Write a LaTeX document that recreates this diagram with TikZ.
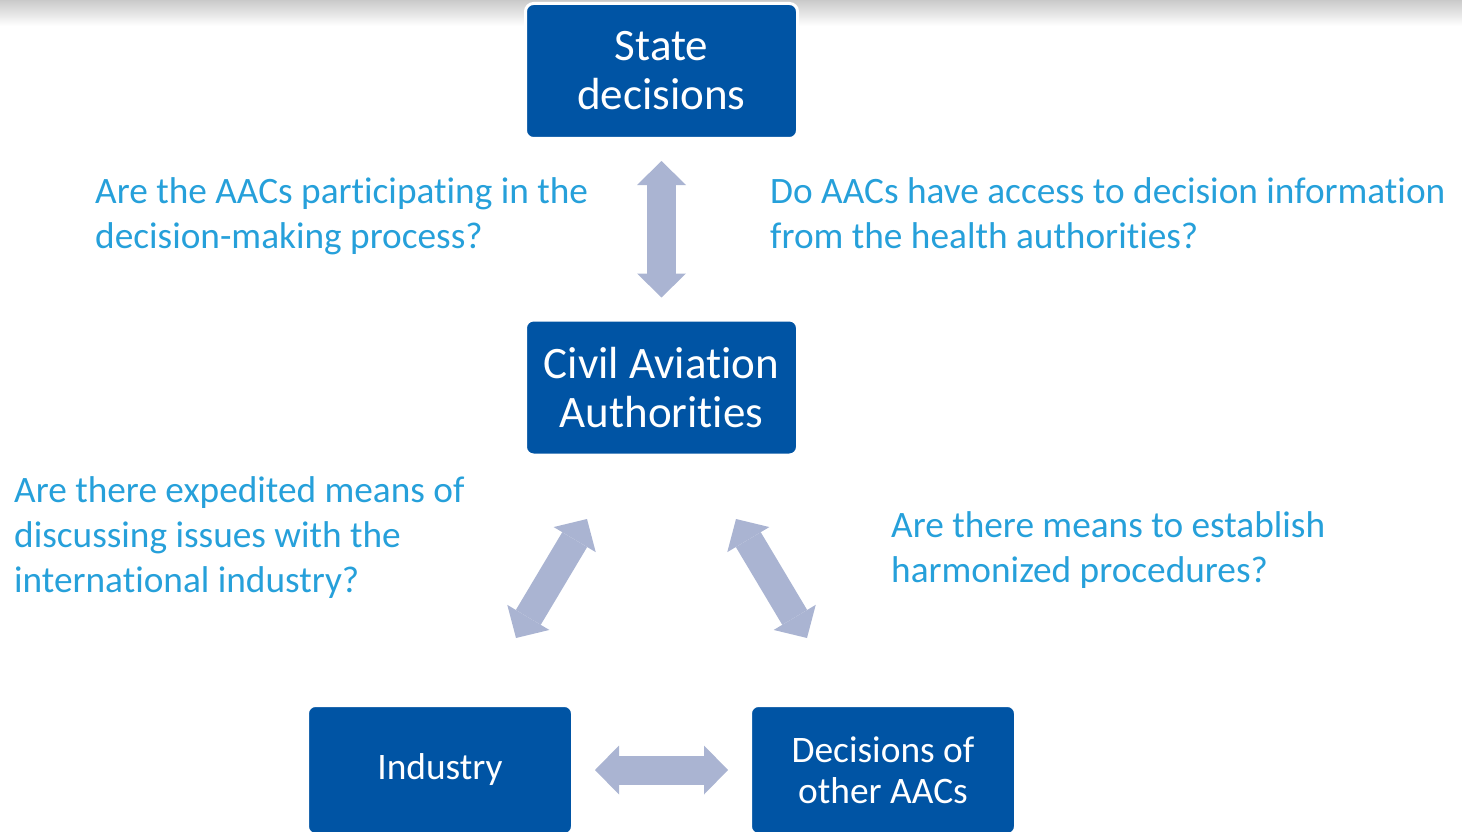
\documentclass[tikz,border=0pt]{standalone}
\usepackage{fontspec}
\setmainfont{Carlito}[RawFeature={-liga;-clig;-dlig;-rlig;-calt}]
\usepackage{tikz}
\usetikzlibrary{
    calc,
    arrows.meta,
    positioning
}
\definecolor{boxblue}{RGB}{0,84,164}
\definecolor{asktext}{RGB}{38,160,218}
\definecolor{linkgray}{RGB}{170,180,210}
\tikzset{
    authbox/.style={draw=white, line width=3pt, fill=boxblue, rounded corners=8pt,
        text=white, align=center, inner sep=0pt},
    bigbox/.style={authbox, minimum width=272pt, minimum height=135pt,
        font=\fontsize{45}{49}\selectfont},
    lowbox/.style={authbox, minimum width=265pt, minimum height=129pt,
        font=\fontsize{37.4}{41}\selectfont},
    question/.style={text=asktext, align=left, anchor=base west, inner sep=0pt,
        font=\fontsize{37.3}{45}\selectfont},
    linktip/.tip={Triangle[length=24pt 0, width=49pt 0, line width=0pt]},
    linkarrow/.style={draw=linkgray, line width=29pt, linktip-linktip},
    gap/.style={shorten <=21pt, shorten >=21pt}
}

\begin{document}
\begin{tikzpicture}[x=1pt, y=-1pt]
    \useasboundingbox (0,0) rectangle (1462,832);
    \shade[top color=black!21, bottom color=white] (0,0) rectangle (1462,26);

    \node[bigbox] (state) at (661.5,71) {State\\decisions};
    \node[bigbox] (caa) at (661.5,387.5) {Civil Aviation\\Authorities};
    \node[lowbox] (industry) at (440,770) {Industry};
    \node[lowbox] (others) at (883,770) {Decisions of\\other AACs};

    \coordinate (leftup) at (587,519);
    \coordinate (leftdown) at (516,638);
    \coordinate (rightup) at (736,519);
    \coordinate (rightdown) at (807,638);

    \draw[linkarrow, gap] (state) -- (caa);
    \draw[linkarrow] (leftup) -- (leftdown);
    \draw[linkarrow] (rightup) -- (rightdown);
    \draw[linkarrow, gap] (industry) -- (others);

    % base anchor sits on the last line
    \node[question] (askstate) at (95,248)
        {Are the AACs participating in the\\decision-making process?};
    \node[question] (askhealth) at (770,248)
        {Do AACs have access to decision information\\from the health authorities?};
    \node[question] (askindustry) at (14,592)
        {Are there expedited means of\\discussing issues with the\\international industry?};
    \node[question] (askharmony) at (891,582)
        {Are there means to establish\\harmonized procedures?};
\end{tikzpicture}
\end{document}
